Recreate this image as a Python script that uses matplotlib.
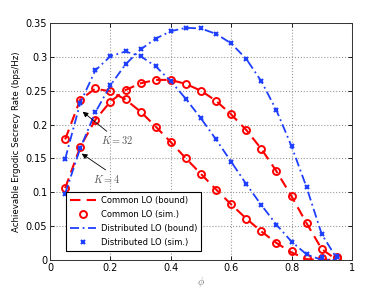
import numpy as np
import matplotlib
matplotlib.use("Agg")
import matplotlib.pyplot as plt

phi = [0.05, 0.10, 0.15, 0.20, 0.25, 0.30, 0.35, 0.40, 0.45, 0.50,
       0.55, 0.60, 0.65, 0.70, 0.75, 0.80, 0.85, 0.90, 0.95]

# Common LO, K = 32 and K = 4
common_k32_bound = [0.178, 0.237, 0.253, 0.249, 0.237, 0.219, 0.197, 0.174, 0.150, 0.127,
                    0.104, 0.082, 0.061, 0.042, 0.025, 0.011, 0.001, 0.0, 0.0]
common_k32_sim = [0.178, 0.237, 0.254, 0.250, 0.238, 0.219, 0.197, 0.174, 0.150, 0.127,
                  0.104, 0.082, 0.061, 0.042, 0.025, 0.013, 0.003, 0.003, 0.003]
common_k4_bound = [0.106, 0.167, 0.207, 0.234, 0.251, 0.261, 0.266, 0.266, 0.260, 0.250,
                   0.235, 0.215, 0.192, 0.164, 0.131, 0.094, 0.054, 0.016, 0.0]
common_k4_sim = [0.106, 0.167, 0.207, 0.234, 0.251, 0.261, 0.266, 0.266, 0.260, 0.250,
                 0.235, 0.215, 0.192, 0.164, 0.131, 0.094, 0.054, 0.016, 0.004]

# Distributed LO, K = 32 and K = 4
dist_k32_bound = [0.149, 0.232, 0.280, 0.301, 0.308, 0.301, 0.286, 0.264, 0.238, 0.209,
                  0.178, 0.145, 0.112, 0.081, 0.052, 0.027, 0.008, 0.0, 0.0]
dist_k32_sim = [0.149, 0.232, 0.280, 0.301, 0.308, 0.301, 0.286, 0.264, 0.238, 0.209,
                0.178, 0.145, 0.112, 0.081, 0.052, 0.027, 0.008, 0.004, 0.004]
dist_k4_bound = [0.098, 0.165, 0.218, 0.258, 0.289, 0.311, 0.327, 0.338, 0.343, 0.342,
                 0.334, 0.320, 0.297, 0.264, 0.221, 0.168, 0.107, 0.038, 0.002]
dist_k4_sim = [0.098, 0.165, 0.218, 0.258, 0.289, 0.311, 0.327, 0.338, 0.343, 0.342,
               0.334, 0.320, 0.297, 0.264, 0.221, 0.168, 0.107, 0.038, 0.005]

plt.rcParams['font.family'] = ['DejaVu Sans']
plt.rcParams['mathtext.fontset'] = 'cm'

fig = plt.figure(figsize=(3.88, 2.92), dpi=100)
ax = fig.add_axes([0.129, 0.110, 0.778, 0.811])

red = '#ff0000'
blue = '#1f3fff'
dash = (0, (5, 3))
dashdot = (0, (5, 2, 1, 2))

ax.plot(phi, common_k32_bound, color=red, ls=dash, lw=1.5, label='Common LO (bound)')
ax.plot(phi, common_k4_bound, color=red, ls=dash, lw=1.5)
ax.plot(phi, common_k32_sim, ls='none', marker='o', ms=5, mfc='none', mec=red, mew=1.4,
        label='Common LO (sim.)')
ax.plot(phi, common_k4_sim, ls='none', marker='o', ms=5, mfc='none', mec=red, mew=1.4)

ax.plot(phi, dist_k32_bound, color=blue, ls=dashdot, lw=1.3, label='Distributed LO (bound)')
ax.plot(phi, dist_k4_bound, color=blue, ls=dashdot, lw=1.3)
ax.plot(phi, dist_k32_sim, ls='none', marker='x', ms=3.5, mec=blue, mew=1.5,
        label='Distributed LO (sim.)')
ax.plot(phi, dist_k4_sim, ls='none', marker='x', ms=3.5, mec=blue, mew=1.5)

ax.annotate('$K=32$', xy=(0.108, 0.219), xytext=(0.17, 0.177), fontsize=7.5, color='#555555',
            arrowprops=dict(arrowstyle='-|>', color='black', lw=0.6, mutation_scale=8,
                            shrinkA=0, shrinkB=0), ha='left', va='center')
ax.annotate('$K=4$', xy=(0.105, 0.157), xytext=(0.143, 0.120), fontsize=7.5, color='#555555',
            arrowprops=dict(arrowstyle='-|>', color='black', lw=0.6, mutation_scale=8,
                            shrinkA=0, shrinkB=0, relpos=(0.6, 1.0)), ha='left', va='center')

ax.set_xlim(0, 1)
ax.set_ylim(0, 0.35)
ax.set_xticks(np.arange(0, 1.01, 0.2))
ax.set_xticklabels(['0', '0.2', '0.4', '0.6', '0.8', '1'])
ax.set_yticks(np.arange(0, 0.351, 0.05))
ax.set_yticklabels(['0', '0.05', '0.1', '0.15', '0.2', '0.25', '0.3', '0.35'])
ax.tick_params(direction='in', labelsize=7, length=3, width=0.6, top=True, right=True, pad=2)
ax.grid(True, ls=':', color='#999999', lw=0.8)
for s in ax.spines.values():
    s.set_linewidth(0.7)
    s.set_color('#333333')

ax.set_ylabel('Achievable Ergodic Secrecy Rate (bps/Hz)', fontsize=6.2, labelpad=3)
ax.set_xlabel(r'$\phi$', fontsize=7.5, color='#777777', labelpad=2)

leg = ax.legend(loc='lower left', bbox_to_anchor=(0.053, 0.038), fontsize=6.0, fancybox=False,
                framealpha=1, edgecolor='black', borderpad=0.45, labelspacing=0.6,
                handlelength=3.2, handletextpad=0.5, borderaxespad=0)
leg.get_frame().set_linewidth(0.8)

fig.savefig('out.png', dpi=100)
